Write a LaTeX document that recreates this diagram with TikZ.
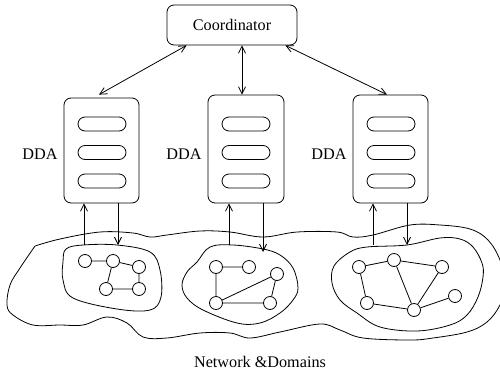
\documentclass[tikz,border=0pt]{standalone}
\usepackage{fontspec}
\setmainfont{Liberation Serif}
\usetikzlibrary{arrows.meta,shapes.misc}
\begin{document}
\begin{tikzpicture}[x=1pt,y=-1pt,
  line width=0.8pt,
  every node/.style={font=\fontsize{16.2}{19}\selectfont},
  box/.style={draw,rounded corners=7pt,inner sep=0pt},
  pill/.style={draw,rounded rectangle,minimum width=48pt,minimum height=14pt,inner sep=0pt},
  vtx/.style={draw,circle,minimum size=13pt,inner sep=0pt},
  tip/.style={-{Straight Barb[length=7pt,width=7pt]}},
  bitip/.style={{Straight Barb[length=7pt,width=7pt]}-{Straight Barb[length=7pt,width=7pt]}},
  blob/.style={smooth cycle,tension=0.6}]
\useasboundingbox (0,0) rectangle (500,370);

% coordinator
\node[box,minimum width=130pt,minimum height=40pt] (coord) at (232,25) {Coordinator};

% agent boxes with their three slots
\node[box,minimum width=75pt,minimum height=105pt] (dda1) at (101.5,150.5) {};
\node[box,minimum width=76pt,minimum height=108pt] (dda2) at (246,149) {};
\node[box,minimum width=75pt,minimum height=108pt] (dda3) at (390.5,149) {};
\foreach \b/\x in {1/102,2/246,3/391}{
  \node[pill] (p\b a) at (\x,124) {};
  \node[pill] (p\b b) at (\x,152.5) {};
  \node[pill] (p\b c) at (\x,181) {};
}
\node (l1) at (40,154) {DDA};
\node (l2) at (184,154) {DDA};
\node (l3) at (329,154) {DDA};

% coordinator links
\coordinate (cm) at ([xshift=10pt]coord.south);
\draw[bitip] ([xshift=20pt]coord.south west) -- ([xshift=-2.5pt,yshift=3pt]dda1.north);
\draw[bitip] (cm) -- (cm |- dda2.north);
\draw[bitip] ([xshift=-12pt]coord.south east) -- ([xshift=-3.5pt]dda3.north);

% network outline
\draw plot[smooth,tension=0.6] coordinates {
  (35,246) (60,239) (100,232) (133,233) (150,237) (167,235) (200,231)
  (230,232) (263,237) (297,232) (337,232) (353,237) (373,235) (410,225)
  (440,225) (470,229) (488,240) (500,260) (506,285) (500,305) (487,322)
  (467,332) (433,338) (410,340) (363,338) (340,330) (320,324) (280,332)
  (250,338) (230,333) (200,333) (167,338) (143,337) (127,323) (107,317)
  (83,325) (60,325) (33,325) (13,315) (7,305) (10,285) (20,268) (35,246)};

% domains
\draw plot[blob] coordinates {(66,249) (83,245) (117,245) (150,252) (160,270)
  (161,297) (150,310) (117,309) (73,298) (63,280) (63,262)};
\draw plot[blob] coordinates {(210,247) (233,245) (263,249) (280,255) (293,268)
  (298,288) (293,300) (280,313) (260,323) (237,323) (203,310) (187,298)
  (182,285) (187,272) (197,262)};
\draw plot[blob] coordinates {(350,252) (367,247) (407,245) (440,238) (460,239)
  (473,247) (482,263) (483,277) (478,297) (467,315) (450,325) (417,331)
  (380,327) (357,313) (340,300) (332,283) (334,266)};

% domain graphs
\node[vtx] (a1) at (85,261) {};
\node[vtx] (b1) at (113,261) {};
\node[vtx] (c1) at (139,267) {};
\node[vtx] (d1) at (106,289) {};
\node[vtx] (e1) at (139,289) {};
\draw (a1) -- (b1) (b1) -- (c1) (b1) -- (d1) (d1) -- (e1) (c1) -- (e1);

\node[vtx] (a2) at (216,267) {};
\node[vtx] (b2) at (249,267) {};
\node[vtx] (c2) at (277,274) {};
\node[vtx] (d2) at (216,303) {};
\node[vtx] (e2) at (270,303) {};
\draw (a2) -- (b2) (a2) -- (d2) (d2) -- (e2) (d2) -- (c2) (c2) -- (e2);

\node[vtx] (a3) at (359,267) {};
\node[vtx] (b3) at (394,260) {};
\node[vtx] (c3) at (442,267) {};
\node[vtx] (d3) at (455,296) {};
\node[vtx] (e3) at (367,303) {};
\node[vtx] (f3) at (414,310) {};
\draw (a3) -- (b3) (b3) -- (c3) (b3) -- (f3) (c3) -- (f3) (e3) -- (f3)
  (f3) -- (d3) (a3) -- (e3);

% links between agents and domains
\coordinate (u1) at (84,245);
\coordinate (w1) at (118,245);
\coordinate (u2) at (229,245);
\coordinate (w2) at (263,252);
\coordinate (u3) at (373,245);
\coordinate (w3) at (407,245);
\draw[tip] (u1) -- (u1 |- dda1.south);
\draw[tip] (w1 |- dda1.south) -- (w1);
\draw[tip] (u2) -- (u2 |- dda2.south);
\draw[tip] (w2 |- dda2.south) -- (w2);
\draw[tip] (u3) -- (u3 |- dda3.south);
\draw[tip] (w3 |- dda3.south) -- (w3);

\node (net) at (260,362) {Network \&Domains};
\end{tikzpicture}
\end{document}
